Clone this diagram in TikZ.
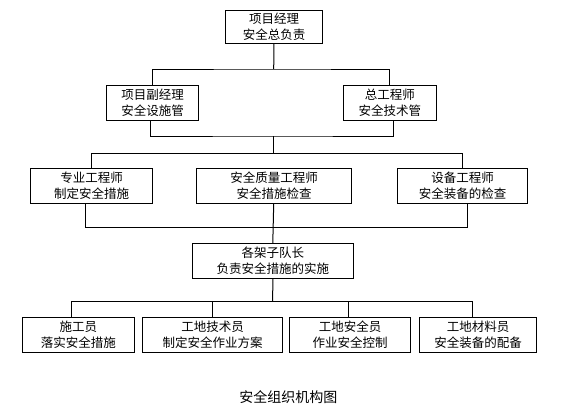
\documentclass[tikz,border=0pt]{standalone}
\usepackage{fontspec}
\newfontfamily\cjk{Noto Sans CJK SC}
\usepackage{tikz}
\usetikzlibrary{positioning}

\begin{document}
\begin{tikzpicture}[x=1pt,y=-1pt,line width=1pt,
  box/.style={draw,align=center,inner sep=0pt,minimum height=35,
    font=\cjk\fontsize{12.5}{16.7}\selectfont}]

  \useasboundingbox (0,0) rectangle (587,407);

  \node[box,minimum width=97,minimum height=33.3] (pm) at (274.2,26.7) {项目经理\\安全总负责};

  \node[box,minimum width=92.4] (vpm) at (152.5,102.7) {项目副经理\\安全设施管};
  \node[box,minimum width=93] (chief) at (389.8,102.7) {总工程师\\安全技术管};

  \node[box,minimum width=122.4] (spec) at (91.5,185.8) {专业工程师\\制定安全措施};
  \node[box,minimum width=155.4] (qual) at (274,185.8) {安全质量工程师\\安全措施检查};
  \node[box,minimum width=130.4] (equip) at (462.5,185.8) {设备工程师\\安全装备的检查};

  \node[box,minimum width=161] (team) at (272.8,260.8) {各架子队长\\负责安全措施的实施};

  \node[box,minimum width=112.4] (crew) at (78.5,334.8) {施工员\\落实安全措施};
  \node[box,minimum width=140] (tech) at (212.7,334.8) {工地技术员\\制定安全作业方案};
  \node[box,minimum width=121.4] (safe) at (350,334.8) {工地安全员\\作业安全控制};
  \node[box,minimum width=117.4] (mat) at (478,334.8) {工地材料员\\安全装备的配备};

  \node[font=\cjk\fontsize{14}{16}\selectfont] (title) at (288.3,396.7) {安全组织机构图};

  \coordinate (b1) at (273.7,69);
  \coordinate (b2) at (273.7,136);
  \coordinate (b3) at (273.7,153.3);
  \coordinate (b4) at (273.7,227.3);
  \coordinate (b5) at (272.7,301.3);

  \draw (pm) -- (b1);
  \draw (vpm.north) |- (b1) -| (chief.north);

  \draw ([xshift=-2pt]vpm.south) |- (b2) -| ([xshift=4pt]chief.south);
  \draw (b2) -- (b3);
  \draw (spec.north) |- (b3) -| (equip.north);

  \draw ([xshift=-6pt]spec.south) |- (b4) -| ([xshift=5pt]equip.south);
  \draw ([xshift=-0.3pt]qual.south) -- (team.north);

  \draw (team.south) -- (b5);
  \draw ([xshift=-7pt]crew.north) |- (b5) -| ([xshift=-6pt]mat.north);
  \draw (tech.north) |- (b5);
  \draw ([xshift=-2pt]safe.north) |- (b5);
\end{tikzpicture}
\end{document}
